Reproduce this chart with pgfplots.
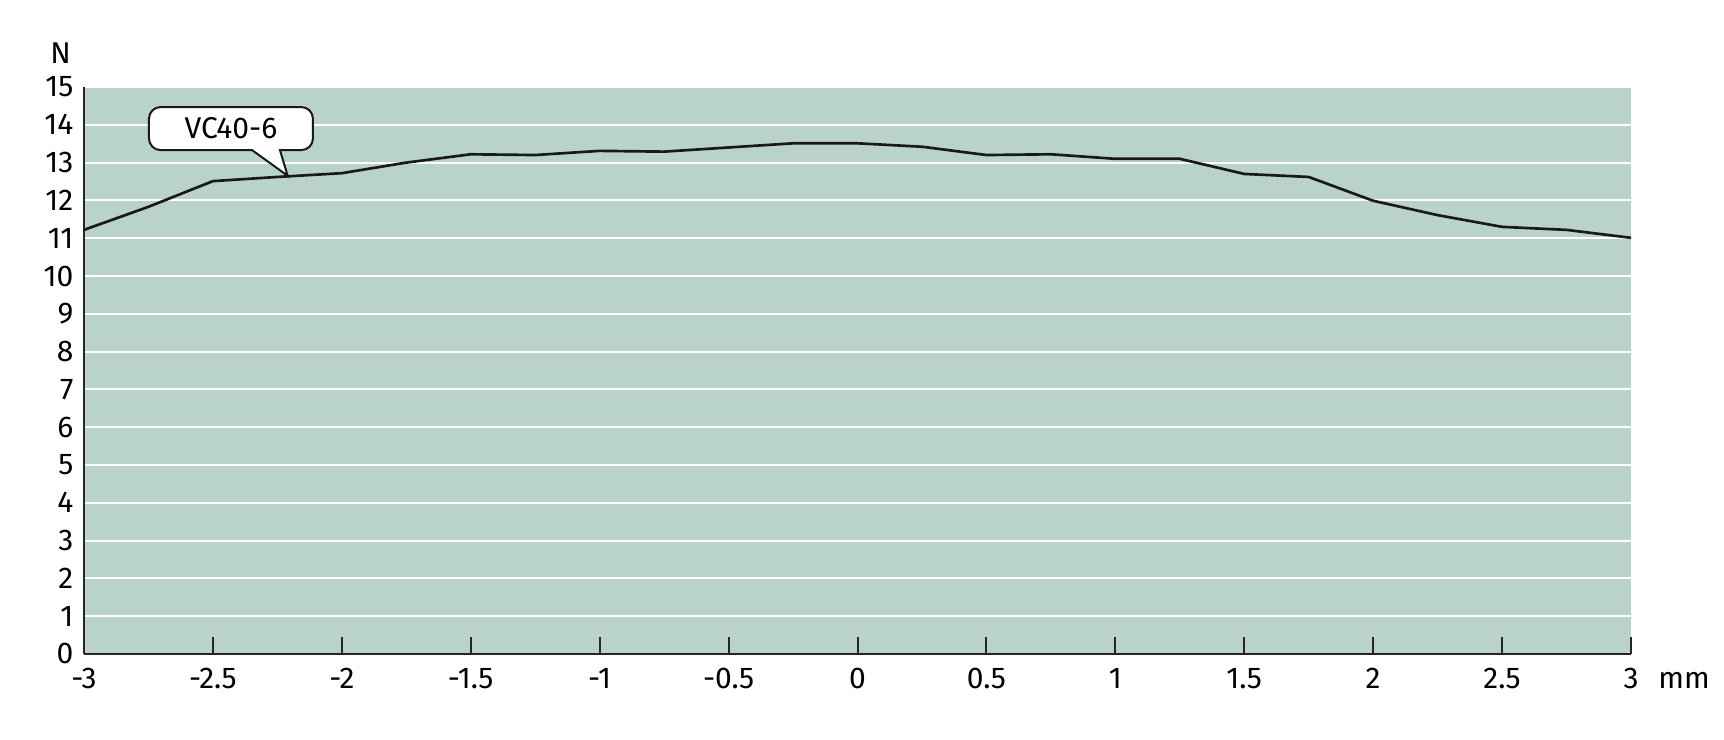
\documentclass[border=0pt]{standalone}
\usepackage{pgfplots}
\pgfplotsset{compat=1.18}
\usepackage{fontspec}
\setmainfont{Fira Sans}
\definecolor{bg}{RGB}{186,211,202}
\begin{document}
\fontsize{9pt}{10.8pt}\selectfont
\begin{tikzpicture}
\begin{axis}[
  scale only axis,
  width=464.1pt, height=170.1pt,
  xmin=-3, xmax=3, ymin=0, ymax=15,
  axis background/.style={fill=bg},
  axis x line*=bottom, axis y line*=left,
  axis line style={line width=0.6pt, black!85},
  xtick={-2.5,-2,...,3}, extra x ticks={-3}, extra x tick style={major tick length=0pt},
  xticklabels={-2.5,-2,-1.5,-1,-0.5,0,0.5,1,1.5,2,2.5,3},
  extra x tick labels={-3},
  ytick={0,1,...,15},
  tick align=inside,
  x tick style={line width=0.6pt, black!85},
  major tick length=5pt,
  y tick style={draw=none},
  ymajorgrids, grid style={white, line width=0.6pt},
  xmajorgrids=false,
  xticklabel style={yshift=-1pt},
  yticklabel style={xshift=0pt},
  /pgf/number format/assume math mode=true,
  tick label style={font=\fontsize{9pt}{10.8pt}\selectfont},
  clip=false,
]
\addplot[black!90, line width=0.8pt] coordinates {
(-3,11.22) (-2.75,11.83) (-2.5,12.51) (-2.25,12.62) (-2,12.72) (-1.75,13.0)
(-1.5,13.22) (-1.25,13.2) (-1,13.31) (-0.75,13.29) (-0.5,13.4) (-0.25,13.51)
(0,13.51) (0.25,13.42) (0.5,13.2) (0.75,13.22) (1,13.1) (1.25,13.1)
(1.5,12.7) (1.75,12.62) (2,11.99) (2.25,11.61) (2.5,11.3) (2.75,11.22) (3,11.01)
};
\draw[draw=black!90, fill=white, line width=0.6pt]
  (axis cs:-2.21,12.65) -- (axis cs:-2.24,13.33)
  [rounded corners=3.5pt] -- (axis cs:-2.112,13.33) -- (axis cs:-2.112,14.47)
  -- (axis cs:-2.748,14.47) -- (axis cs:-2.748,13.33)
  [sharp corners] -- (axis cs:-2.348,13.33) -- cycle;
\node[font=\fontsize{9pt}{10.8pt}\selectfont] at (axis cs:-2.43,13.9) {VC40-6};
\node[font=\fontsize{9pt}{10.8pt}\selectfont, anchor=base] at (axis cs:-3,15) [xshift=-7pt, yshift=7pt] {N};
\node[font=\fontsize{9pt}{10.8pt}\selectfont, anchor=base west] at (axis cs:3,0) [xshift=5pt, yshift=-10.5pt] {mm};
\end{axis}
\useasboundingbox (-25.2pt,-25.8pt) rectangle (492pt,196.2pt);
\end{tikzpicture}
\end{document}
